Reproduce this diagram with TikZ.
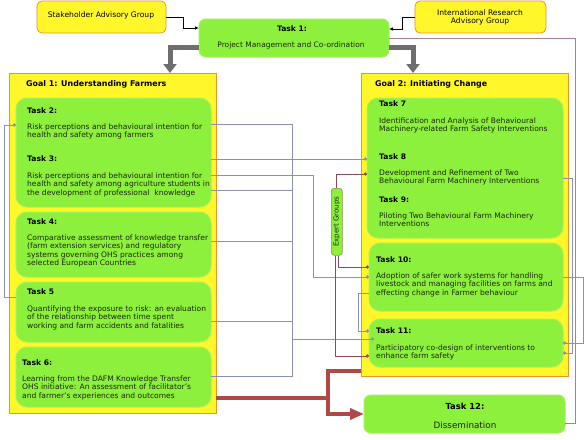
\documentclass[tikz,border=0pt]{standalone}
\usepackage{fontspec}
\setmainfont{DejaVu Sans}
\usetikzlibrary{arrows.meta}
\definecolor{ylw}{HTML}{FFF72A}
\definecolor{orng}{HTML}{E8962A}
\definecolor{grn}{HTML}{8CF03C}
\definecolor{grnedge}{HTML}{A4F25A}
\definecolor{bl}{HTML}{8A90B8}
\definecolor{mv}{HTML}{B08088}
\definecolor{ex}{HTML}{8A4A5C}
\definecolor{rd}{HTML}{B04848}
\definecolor{gy}{HTML}{6E6E6E}
\definecolor{txt}{HTML}{1A2810}
\tikzset{
  ybox/.style={draw=orng, fill=ylw, line width=0.8pt, rounded corners=5pt, inner sep=0, outer sep=0, anchor=north west},
  goalbox/.style={draw=orng, fill=ylw, line width=1pt, inner sep=0, outer sep=0, anchor=north west},
  gbox/.style={draw=grnedge, fill=grn, line width=1pt, rounded corners=11pt, inner sep=0, outer sep=0, anchor=north west},
  ttl/.style={font=\fontsize{7.6}{8.6}\selectfont\bfseries, text=black, anchor=west, inner sep=0},
  gttl/.style={font=\fontsize{7.9}{8.6}\selectfont\bfseries, text=black, anchor=west, inner sep=0},
  body/.style={font=\fontsize{7.55}{8.6}\selectfont, text=txt, anchor=north west, align=left, inner sep=0},
  bline/.style={draw=bl, line width=0.8pt},
  mline/.style={draw=mv, line width=1pt},
  eline/.style={draw=ex, line width=1pt},
  dotend/.style={-{Circle[length=3.2pt]}},
  rline/.style={draw=rd, line width=4pt},
  garrow/.style={draw=gy, line width=5pt, -{Triangle[width=13pt,length=9pt]}},
  tarrow/.style={draw=black, line width=0.8pt, -{Latex[length=4pt,width=3.5pt]}}
}
\begin{document}
\begin{tikzpicture}[x=1pt,y=-1pt]
\useasboundingbox (0,0) rectangle (588,439);
\fill[white] (0,0) rectangle (588,439);

% top boxes
\node[ybox, minimum width=129pt, minimum height=32pt] (sag) at (37,1) {};
\node[font=\fontsize{7.6}{8.6}\selectfont, inner sep=0] (sagt) at (101,15) {Stakeholder Advisory Group};
\node[ybox, minimum width=131pt, minimum height=32pt] (irag) at (415,1) {};
\node[font=\fontsize{7.6}{8.8}\selectfont, align=center, inner sep=0] (iragt) at (480,17.5) {International Research\\Advisory Group};
\node[gbox, rounded corners=7pt, minimum width=190pt, minimum height=38pt] (t1) at (199,19) {};
\node[ttl, anchor=center] (t1h) at (292,29) {Task 1:};
\node[font=\fontsize{7.5}{8.6}\selectfont, text=txt, inner sep=0] (t1b) at (291,45) {Project Management and Co-ordination};

% goal boxes
\node[goalbox, minimum width=207pt, minimum height=340pt] (g1) at (9,73) {};
\node[goalbox, minimum width=207pt, minimum height=303pt] (g2) at (361,73) {};
\node[gttl] (g1t) at (26,84) {Goal 1: Understanding Farmers};
\node[gttl] (g2t) at (375,84) {Goal 2: Initiating Change};

% goal 1 tasks
\node[gbox, minimum width=195pt, minimum height=109pt] (t23) at (16,98) {};
\node[gbox, minimum width=195pt, minimum height=65pt] (t4) at (16,212) {};
\node[gbox, minimum width=195pt, minimum height=60pt] (t5) at (16,282) {};
\node[gbox, minimum width=195pt, minimum height=60pt] (t6) at (16,347) {};

\node[ttl] (t2h) at (27,111) {Task 2:};
\node[body] (t2b) at (27,123.2) {Risk perceptions and behavioural intention for\\health and safety among farmers};
\node[ttl] (t3h) at (27,159) {Task 3:};
\node[body] (t3b) at (27,172.2) {Risk perceptions and behavioural intention for\\health and safety among agriculture students in\\the development of professional\ \ knowledge};
\node[ttl] (t4h) at (27,222) {Task 4:};
\node[body] (t4b) at (27,234.2) {Comparative assessment of knowledge transfer\\(farm extension services) and regulatory\\systems governing OHS practices among\\selected European Countries};
\node[ttl] (t5h) at (27,292) {Task 5};
\node[body] (t5b) at (27,305.2) {Quantifying the exposure to risk: an evaluation\\of the relationship between time spent\\working and farm accidents and fatalities};
\node[ttl] (t6h) at (22,363) {Task 6:};
\node[body] (t6b) at (22,375.2) {Learning from the DAFM Knowledge Transfer\\OHS initiative: An assessment of facilitator’s\\and farmer’s experiences and outcomes};

% goal 2 tasks
\node[gbox, minimum width=196pt, minimum height=140pt] (t789) at (367,98) {};
\node[gbox, minimum width=194pt, minimum height=68pt] (t10) at (369,243) {};
\node[gbox, minimum width=194pt, minimum height=48pt] (t11) at (369,319) {};
\node[gbox, rounded corners=7pt, minimum width=201pt, minimum height=38pt] (t12) at (364,395) {};

\node[ttl] (t7h) at (379,104) {Task 7};
\node[body] (t7b) at (379,117.2) {Identification and Analysis of Behavioural\\Machinery-related Farm Safety Interventions};
\node[ttl] (t8h) at (379,157) {Task 8};
\node[body] (t8b) at (379,169.2) {Development and Refinement of Two\\Behavioural Farm Machinery Interventions};
\node[ttl] (t9h) at (379,200) {Task 9:};
\node[body] (t9b) at (379,212.2) {Piloting Two Behavioural Farm Machinery\\Interventions};
\node[ttl] (t10h) at (376,260) {Task 10:};
\node[body] (t10b) at (376,272.2) {Adoption of safer work systems for handling\\livestock and managing facilities on farms and\\effecting change in Farmer behaviour};
\node[ttl] (t11h) at (376,331) {Task 11:};
\node[body] (t11b) at (376,344.2) {Participatory co-design of interventions to\\enhance farm safety};
\node[font=\fontsize{8.4}{9}\selectfont\bfseries, inner sep=0] (t12h) at (465,406) {Task 12:};
\node[font=\fontsize{8.8}{9}\selectfont, text=txt, inner sep=0] (t12b) at (465,425) {Dissemination};

% expert groups
\node[draw=ex!60!grn, fill=grn, line width=0.6pt, rounded corners=3pt, minimum width=11pt, minimum height=67pt, inner sep=0, anchor=north west] (eg) at (331,188) {};
\node[rotate=90, font=\fontsize{7}{8}\selectfont, text=txt, inner sep=0] (egt) at (eg.center) {Expert Groups};

% top connectors
\draw[tarrow] (sag.east) -- ++(17,0) |- (t1.west |- 0,28);
\draw[tarrow] (irag.west) -- ++(-13,0) |- (t1.east |- 0,29);
\draw[garrow] (t1.west |- 0,47) -| (g1.north -| 170,0);
\draw[garrow] (t1.east |- 0,47) -| (g2.north -| 413,0);
\draw[mline] (t1.east |- 0,38) -- (575,38) |- (t12.east |- 0,423);

% left loop
\draw[bline, dotend] (t5.west |- 0,297) -- (4,297) |- (t23.west |- 0,125);

% goal 1 to x=292 bus
\draw[bline] (t23.east |- 0,124) -| (292,376) -- (t6.east |- 0,376);
\draw[bline] (t23.east |- 0,190) -- (292,190);
\draw[bline] (t4.east |- 0,241) -- (292,241);
\draw[bline] (t5.east |- 0,321) -- (292,321);
\draw[bline, dotend] (292,339) -- (374,339);
\draw[bline, dotend] (t23.east |- 0,159) -- (t789.west |- 0,159);
\draw[bline, dotend] (t23.east |- 0,175) -| (313,277) -- (t10.west |- 0,277);

% expert group connectors
\draw[eline, dotend] (eg.north) |- (t789.west |- 0,174);
\draw[eline, dotend] (eg.south -| 338.5,0) |- (t10.west |- 0,267);
\draw[eline, dotend] (eg.south -| 335,0) |- (t11.west |- 0,356);

% goal 2 internal
\draw[bline, dotend] (t10.west |- 0,293) -- (358,293) |- (t11.west |- 0,331);
\draw[bline, dotend] (t789.east |- 0,178) -- (572,178) |- (t11.east |- 0,353);
\draw[bline, dotend] (t10.east |- 0,277) -- (583,277) |- (t11.east |- 0,343);

% dissemination
\draw[rline] (g1.east |- 0,398) -- (330,398);
\draw[rline, -{Triangle[width=11pt,length=14pt]}] (g2.west |- 0,371) -| (328,414) -- (t12.west |- 0,414);
\end{tikzpicture}
\end{document}
